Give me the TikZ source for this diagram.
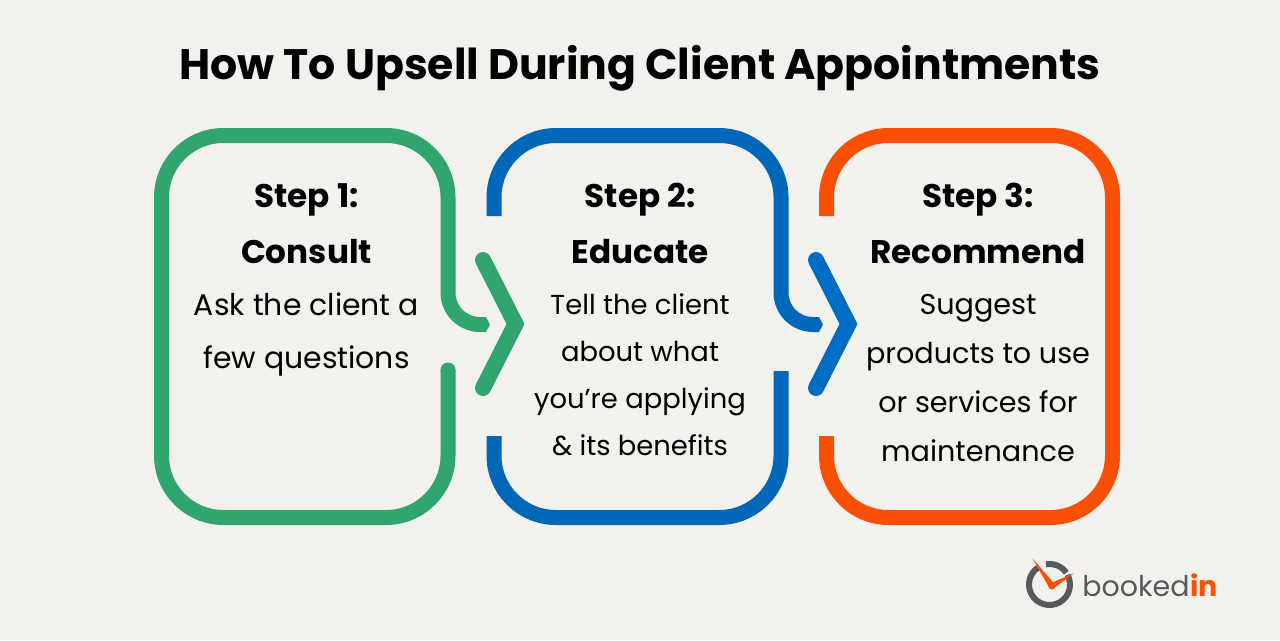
\documentclass[tikz,border=0pt]{standalone}
\usepackage{fontspec}
\setmainfont{Poppins}

\definecolor{paper}{HTML}{F2F1ED}
\definecolor{consultgreen}{HTML}{31A56E}
\definecolor{educateblue}{HTML}{0067B9}
\definecolor{chevronblue}{HTML}{006DC4}
\definecolor{recommendorange}{HTML}{FA5005}
\definecolor{logogray}{HTML}{58595B}

\tikzset{
    frame/.style={line width=0.3cm, line join=round},
    chevron/.style={line width=0.32cm, line cap=round, line join=miter},
    title/.style={anchor=base, font=\bfseries\fontsize{24.25}{24.25}\selectfont},
    heading/.style={anchor=base, font=\bfseries\fontsize{18.6}{18.6}\selectfont},
    body/.style={anchor=base, font=\fontsize{17}{17}\selectfont},
    bodyblue/.style={anchor=base, font=\fontsize{15.6}{15.6}\selectfont},
    bodyorange/.style={anchor=base, font=\fontsize{16.3}{16.3}\selectfont},
}

\begin{document}
\begin{tikzpicture}[x=0.02cm, y=-0.02cm]
    \useasboundingbox (0, 0) rectangle (1280, 640);
    \fill[paper] (0, 0) rectangle (1280, 640);

    \node[title] (title) at (640, 79) {How To Upsell During Client Appointments};

    % step 1
    \draw[frame, consultgreen] (484, 324.5) [rounded corners=0.64cm] -- (448, 324.5) [rounded corners=1.24cm] -- (448, 135.5) -- (161.5, 135.5) -- (161.5, 517.5) -- (448, 517.5) [sharp corners] -- (448, 370);
    \fill[consultgreen] (448, 370) circle (7.5);
    \fill[consultgreen] (484, 317) -- (486, 317) -- (490, 324.5) -- (486, 332) -- (484, 332) -- cycle;
    \draw[chevron, consultgreen] (483, 260) -- (515.5, 324) -- (483, 388);

    \node[heading] (step1) at (306.5, 207) {Step 1:};
    \node[heading] (consult) at (306.5, 263) {Consult};
    \node[body] (ask1) at (306.5, 315.5) {Ask the client a};
    \node[body] (ask2) at (306.5, 368) {few questions};

    % step 2
    \draw[frame, educateblue] (494, 216) [rounded corners=1.24cm] -- (494, 135.5) -- (781, 135.5) [rounded corners=0.64cm] -- (781, 324.5) [sharp corners] -- (817, 324.5);
    \fill[educateblue] (815, 317) -- (819, 317) -- (823, 324.5) -- (819, 332) -- (815, 332) -- cycle;
    \draw[frame, educateblue] (781, 371) [rounded corners=1.24cm] -- (781, 517.5) -- (494, 517.5) [sharp corners] -- (494, 436);
    \draw[chevron, chevronblue] (816, 260) -- (848.5, 324) -- (816, 388);

    \node[heading] (step2) at (640, 207) {Step 2:};
    \node[heading] (educate) at (640, 263) {Educate};
    \node[bodyblue] (tell1) at (640, 314) {Tell the client};
    \node[bodyblue] (tell2) at (640, 361.5) {about what};
    \node[bodyblue] (tell3) at (640, 408.5) {you’re applying};
    \node[bodyblue] (tell4) at (640, 455.5) {\& its benefits};

    % step 3
    \draw[frame, recommendorange] (826.5, 216) [rounded corners=1.24cm] -- (826.5, 135.5) -- (1112.5, 135.5) -- (1112.5, 517.5) -- (826.5, 517.5) [sharp corners] -- (826.5, 436);

    \node[heading] (step3) at (978, 207) {Step 3:};
    \node[heading] (recommend) at (978, 263) {Recommend};
    \node[bodyorange] (suggest1) at (978, 314) {Suggest};
    \node[bodyorange] (suggest2) at (978, 363) {products to use};
    \node[bodyorange] (suggest3) at (978, 412) {or services for};
    \node[bodyorange] (suggest4) at (978, 461) {maintenance};

    % logo
    \draw[logogray, line width=0.12cm] (1049.5, 584.5) ++(-100:20.5) arc[start angle=-100, end angle=-35, radius=20.5];
    \draw[logogray, line width=0.12cm] (1049.5, 584.5) ++(-28:20.5) arc[start angle=-28, end angle=238, radius=20.5];
    \fill[recommendorange] (1032.3, 558.3) -- (1054.5, 584) -- (1049.5, 588) -- cycle;
    \fill[recommendorange] (1074, 573.3) -- (1052, 582.5) -- (1054, 588) -- cycle;
    \fill[recommendorange] (1051.7, 586) circle (3.5);

    \node[anchor=base west, inner sep=0pt, text=logogray, font=\fontsize{16.2}{16.2}\selectfont] (booked) at (1082, 596) {booked};
    \node[anchor=base west, inner sep=0pt, text=recommendorange, font=\bfseries\fontsize{16.2}{16.2}\selectfont] (in) at (booked.base east) {in};
\end{tikzpicture}
\end{document}
